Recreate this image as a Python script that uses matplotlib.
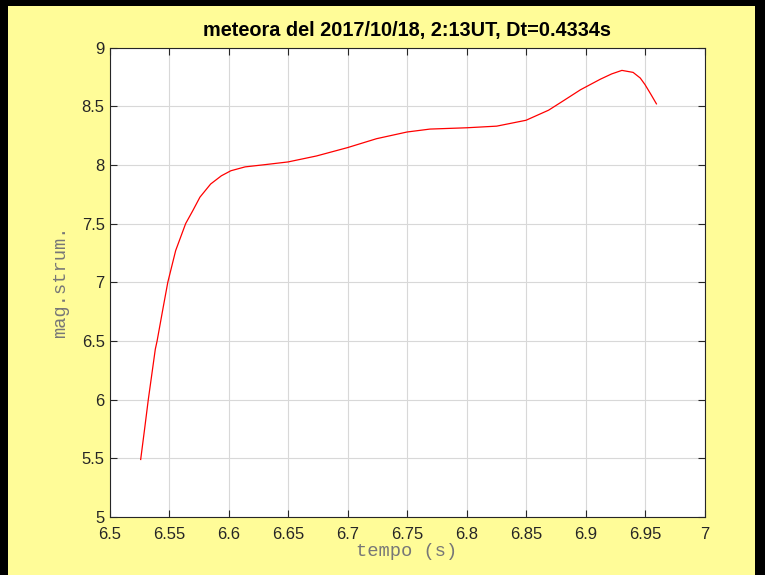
import numpy as np
import matplotlib.pyplot as plt
from matplotlib.patches import Rectangle

# magnitude curve of the meteor (time in s, instrumental magnitude)
tempo = [6.5262, 6.5295, 6.5326, 6.5385, 6.5400, 6.5450, 6.5490, 6.5556, 6.5640,
         6.5700, 6.5760, 6.5850, 6.5940, 6.6020, 6.6140, 6.6290, 6.6500, 6.6740,
         6.7000, 6.7244, 6.7500, 6.7693, 6.8000, 6.8254, 6.8500, 6.8690, 6.8820,
         6.8958, 6.9125, 6.9220, 6.9306, 6.9400, 6.9460, 6.9500, 6.9550, 6.9596]
mag = [5.49, 5.75, 6.00, 6.43, 6.50, 6.78, 7.00, 7.27, 7.50,
       7.61, 7.725, 7.837, 7.907, 7.95, 7.983, 8.00, 8.025, 8.076,
       8.147, 8.223, 8.28, 8.305, 8.316, 8.33, 8.38, 8.466, 8.55,
       8.64, 8.73, 8.775, 8.805, 8.788, 8.74, 8.684, 8.60, 8.52]

xticks = [6.5, 6.55, 6.6, 6.65, 6.7, 6.75, 6.8, 6.85, 6.9, 6.95, 7]
xticklabels = ['6.5', '6.55', '6.6', '6.65', '6.7', '6.75', '6.8', '6.85', '6.9', '6.95', '7']
yticks = [5, 5.5, 6, 6.5, 7, 7.5, 8, 8.5, 9]
yticklabels = ['5', '5.5', '6', '6.5', '7', '7.5', '8', '8.5', '9']

W, H = 765, 575
fig = plt.figure(figsize=(W / 100, H / 100), dpi=100, facecolor='black')
fig.patches.append(Rectangle((8 / W, 0), (755 - 8) / W, (H - 6) / H,
                             transform=fig.transFigure, facecolor='#FFFC98',
                             edgecolor='none', zorder=-10))

ax = fig.add_axes([109.5 / W, 1 - 517 / H, (704.5 - 109.5) / W, (517 - 47.5) / H])
ax.set_zorder(1)
ax.set_facecolor('white')
ax.plot(tempo, mag, color='red', linewidth=0.9)

ax.set_xlim(6.5, 7)
ax.set_ylim(5, 9)
ax.set_xticks(xticks)
ax.set_xticklabels(xticklabels)
ax.set_yticks(yticks)
ax.set_yticklabels(yticklabels)

axcol = '#262626'
ax.tick_params(direction='in', length=5, width=0.8, colors=axcol,
               labelsize=12, top=True, right=True, labeltop=False, labelright=False)
ax.tick_params(axis='x', pad=7)
for lab in ax.get_xticklabels() + ax.get_yticklabels():
    lab.set_family('Liberation Sans')
for s in ax.spines.values():
    s.set_color(axcol)
    s.set_linewidth(0.8)
ax.grid(True, color='#d8d8d8', linewidth=0.8)
ax.set_axisbelow(True)

ax.set_title('meteora del 2017/10/18, 2:13UT, Dt=0.4334s', family='Liberation Sans',
             fontweight='bold', fontsize=14.3, color='black', pad=8)
ax.set_xlabel('tempo (s)', family='Liberation Mono', fontsize=13.5, color='#777777', labelpad=1)
ax.set_ylabel('mag.strum.', family='Liberation Mono', fontsize=13.5, color='#777777', labelpad=9)

fig.savefig('out.png', dpi=100, facecolor=fig.get_facecolor())
